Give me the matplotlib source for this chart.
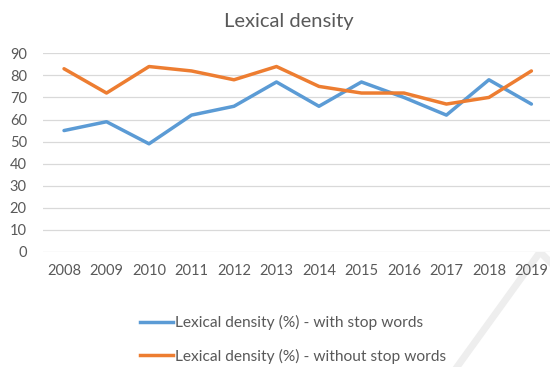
import matplotlib
matplotlib.use("Agg")
from matplotlib import pyplot as plt
from matplotlib.lines import Line2D
import numpy as np

# datos
anios = ["2008", "2009", "2010", "2011", "2012", "2013", "2014", "2015", "2016", "2017", "2018", "2019"]
con_stop = [55, 59, 49, 62, 66, 77, 66, 77, 70, 62, 78, 67]
sin_stop = [83, 72, 84, 82, 78, 84, 75, 72, 72, 67, 70, 82]
nombres = ["Lexical density (%) - with stop words",
           "Lexical density (%) - without stop words"]
y_ticks = [0, 10, 20, 30, 40, 50, 60, 70, 80, 90]

azul = "#5B9BD5"
naranja = "#ED7D31"
gris_texto = "#595959"

plt.rcParams["font.family"] = ["Lato", "DejaVu Sans"]

fig = plt.figure(figsize=(5.5, 3.67), dpi=100)
ax = fig.add_axes([0.0778, 0.3134, 0.927, 0.5414])

x = np.arange(len(anios))
ax.plot(x, con_stop, color=azul, linewidth=2.5, solid_capstyle="round", solid_joinstyle="round", zorder=3)
ax.plot(x, sin_stop, color=naranja, linewidth=2.5, solid_capstyle="round", solid_joinstyle="round", zorder=3)

ax.set_xlim(-0.5, len(anios) - 0.5)
ax.set_ylim(0, 90)
ax.set_yticks(y_ticks)
ax.set_xticks(x)
ax.set_xticklabels(anios)
ax.grid(axis="y", color="#D9D9D9", linewidth=0.9)
ax.set_axisbelow(True)
for s in ax.spines.values():
    s.set_visible(False)
ax.tick_params(axis="both", length=0, labelsize=10.5, colors=gris_texto)
ax.tick_params(axis="x", pad=8.5)
ax.tick_params(axis="y", pad=11.5)

fig.text(289 / 550, 1 - 22 / 367, "Lexical density", ha="center", va="center",
         fontsize=14.5, color=gris_texto)

handles = [Line2D([0], [0], color=azul, linewidth=2.5),
           Line2D([0], [0], color=naranja, linewidth=2.5)]
fig.legend(handles, nombres, loc="upper left", bbox_to_anchor=(140 / 550, 1 - 315 / 367),
           frameon=False, fontsize=11.2, labelcolor=gris_texto, handlelength=2.1,
           handletextpad=0.15, labelspacing=1.2, borderpad=0, borderaxespad=0)

# marca de agua gris en la esquina
fig.add_artist(Line2D([457 / 550, 540 / 550, 552 / 550], [0, 1 - 252 / 367, 1 - 264 / 367],
                      color="#EEEEEE", linewidth=5, transform=fig.transFigure, zorder=0))

fig.savefig("out.png", dpi=100)
